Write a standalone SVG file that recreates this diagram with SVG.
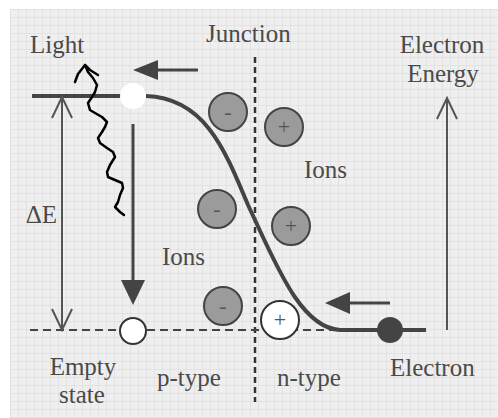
<svg xmlns="http://www.w3.org/2000/svg" width="498" height="418" viewBox="0 0 498 418">
  <defs>
    <pattern id="grid" x="10" y="9" width="8" height="8" patternUnits="userSpaceOnUse">
      <rect width="8" height="8" fill="#efefef"/>
      <path d="M0,0.5 H8 M0.5,0 V8" stroke="#e2e2e2" stroke-width="1"/>
    </pattern>
    <marker id="openHead" viewBox="0 0 24 24" refX="22" refY="12" markerWidth="24" markerHeight="24" markerUnits="userSpaceOnUse" orient="auto-start-reverse">
      <path d="M1,2 L22,12 L1,22" fill="none" stroke="#555" stroke-width="2"/>
    </marker>
    <style>
      .t { font-family: "Liberation Serif", "Times New Roman", serif; font-size: 25px; fill: #4a4a4a; }
      .sign { font-family: "Liberation Serif", "Times New Roman", serif; font-size: 22px; fill: #555; text-anchor: middle; }
      .ion { fill: #9b9b9b; stroke: #444; stroke-width: 2; }
      .hole { fill: #fff; stroke: #333; stroke-width: 2; }
      .thin { stroke: #555; stroke-width: 2; fill: none; }
      .thick { stroke: #444; stroke-width: 3; fill: none; }
      .band { stroke: #444; stroke-width: 4; fill: none; }
      .head { fill: #444; }
    </style>
  </defs>

  <rect x="10" y="9" width="488" height="409" fill="url(#grid)"/>

  <g id="connectors">
    <!-- junction -->
    <line x1="255" y1="57" x2="255" y2="402" stroke="#333" stroke-width="2.5" stroke-dasharray="6 4"/>
    <!-- lower level dashed -->
    <line x1="30" y1="330" x2="336" y2="330" stroke="#444" stroke-width="2" stroke-dasharray="8 5"/>
    <!-- band -->
    <path class="band" d="M32,96 H130 M146,96 C205,98 225,150 248,205 C275,262 300,328 340,330 H426"/>
    <!-- delta E arrow -->
    <line class="thin" x1="62" y1="97" x2="62" y2="330" marker-start="url(#openHead)" marker-end="url(#openHead)"/>
    <!-- electron energy arrow -->
    <line class="thin" x1="447" y1="98" x2="447" y2="330" marker-start="url(#openHead)"/>
    <!-- down arrow -->
    <line class="thick" x1="133" y1="124" x2="133" y2="284"/>
    <polygon class="head" points="121,280 145,280 133,305"/>
    <!-- top left arrow -->
    <line class="thick" x1="155" y1="70" x2="198" y2="70"/>
    <polygon class="head" points="133,70 158,60 158,80"/>
    <!-- bottom left arrow -->
    <line class="thick" x1="347" y1="303" x2="390" y2="303"/>
    <polygon class="head" points="325,303 350,292 350,314"/>
    <!-- light wave -->
    <polyline fill="none" stroke="#000" stroke-width="2.5" stroke-linejoin="round" stroke-linecap="round"
      points="85,65 88,72 93,78 97,85 95,92 92,97 88,103 90,110 95,113 102,117 107,122 105,127 102,132 98,138 100,143 107,148 113,152 115,157 110,165 107,172 108,177 115,180 122,183 123,188 120,195 118,202 115,207 120,212 124,215"/>
    <polyline fill="none" stroke="#000" stroke-width="2.5" stroke-linejoin="round" stroke-linecap="round"
      points="75,82 78,74 85,65 90,70 98,75"/>
  </g>

  <g id="hole-top"><circle cx="133" cy="96" r="13" fill="#fff"/></g>
  <g id="hole-bottom"><circle class="hole" cx="133" cy="331" r="13"/></g>
  <g id="electron"><circle cx="390" cy="330" r="13" fill="#444"/></g>

  <g id="ion-n1"><circle class="ion" cx="228" cy="112" r="19"/><text class="sign" x="228" y="119">-</text></g>
  <g id="ion-p1"><circle class="ion" cx="284" cy="127" r="19"/><text class="sign" x="284" y="134">+</text></g>
  <g id="ion-n2"><circle class="ion" cx="217" cy="209" r="19"/><text class="sign" x="217" y="216">-</text></g>
  <g id="ion-p2"><circle class="ion" cx="291" cy="226" r="19"/><text class="sign" x="291" y="233">+</text></g>
  <g id="ion-n3"><circle class="ion" cx="223" cy="306" r="19"/><text class="sign" x="223" y="313">-</text></g>
  <g id="ion-p3"><circle class="hole" cx="280" cy="320" r="19"/><text class="sign" x="280" y="327">+</text></g>

  <g id="labels">
    <text class="t" x="30" y="53">Light</text>
    <text class="t" x="206" y="42">Junction</text>
    <text class="t" x="442" y="53" text-anchor="middle">Electron</text>
    <text class="t" x="443" y="82" text-anchor="middle">Energy</text>
    <text class="t" x="304" y="178">Ions</text>
    <text class="t" x="162" y="265">Ions</text>
    <text class="t" x="57" y="223" text-anchor="end">ΔE</text>
    <text class="t" x="83" y="375" text-anchor="middle">Empty</text>
    <text class="t" x="82" y="403" text-anchor="middle">state</text>
    <text class="t" x="157" y="386">p-type</text>
    <text class="t" x="277" y="386">n-type</text>
    <text class="t" x="390" y="376">Electron</text>
  </g>
</svg>
